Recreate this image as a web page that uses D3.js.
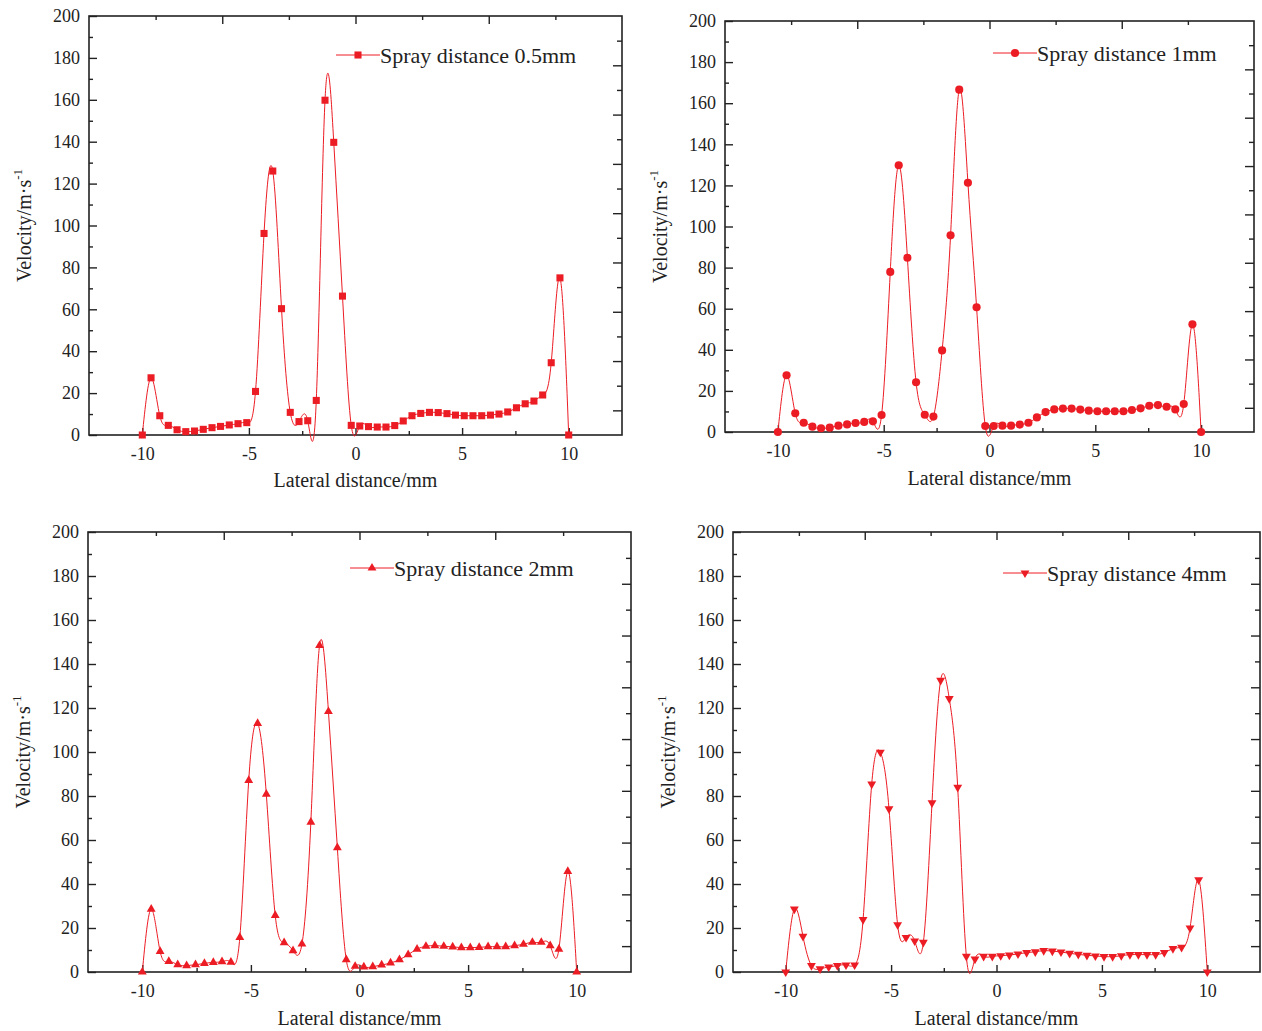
<!DOCTYPE html>
<html>
<head>
<meta charset="utf-8">
<script src="https://cdn.jsdelivr.net/npm/d3@7"></script>
<style>
    body { margin: 0; background: #fff; }
    text { font-family: "Liberation Serif", "Times New Roman", serif; fill: #222; }
</style>
</head>
<body>
<div id="chart"></div>
<script>
// data: lateral positions (mm) shared by all four runs
const lateral = [-10, -9.59, -9.18, -8.78, -8.37, -7.96, -7.55, -7.14, -6.73, -6.33,
    -5.92, -5.51, -5.1, -4.69, -4.29, -3.88, -3.47, -3.06, -2.65, -2.24,
    -1.84, -1.43, -1.02, -0.61, -0.2, 0.2, 0.61, 1.02, 1.43, 1.84,
    2.24, 2.65, 3.06, 3.47, 3.88, 4.29, 4.69, 5.1, 5.51, 5.92,
    6.33, 6.73, 7.14, 7.55, 7.96, 8.37, 8.78, 9.18, 9.59, 10]

// velocity (m/s) for each spray distance
const vel05 = [0, 27.3, 9.2, 4.6, 2.5, 1.6, 1.9, 2.7, 3.5, 4.1,
    4.8, 5.4, 5.9, 20.8, 96.2, 126, 60.3, 10.8, 6.4, 6.8,
    16.5, 159.8, 139.7, 66.3, 4.6, 4.3, 4.0, 3.8, 3.8, 4.5,
    6.7, 9.2, 10.3, 10.8, 10.7, 10.2, 9.5, 9.2, 9.2, 9.2,
    9.5, 10.0, 11.0, 13.0, 14.9, 16.2, 19.1, 34.5, 75.0, 0]
const vel1 = [0, 27.6, 9.1, 4.5, 2.6, 1.8, 2.1, 3.1, 3.7, 4.4,
    4.9, 5.2, 8.3, 77.9, 129.8, 84.8, 24.2, 8.4, 7.5, 39.7,
    95.7, 166.6, 121.3, 60.7, 2.9, 2.9, 3.1, 3.1, 3.6, 4.5,
    7.1, 9.7, 11.0, 11.4, 11.4, 10.9, 10.4, 10.1, 10.1, 10.1,
    10.1, 10.7, 11.5, 12.8, 13.1, 12.3, 11.0, 13.6, 52.4, 0]
const vel2 = [0, 28.6, 9.4, 4.8, 3.3, 2.9, 3.3, 3.9, 4.4, 4.7,
    4.5, 15.7, 87.1, 113, 80.8, 25.7, 13.3, 9.7, 12.7, 68.1,
    148.4, 118.4, 56.5, 5.6, 2.6, 2.3, 2.4, 3.2, 4.1, 5.6,
    7.9, 10.4, 11.7, 12.0, 11.7, 11.4, 11.1, 11.1, 11.2, 11.5,
    11.5, 11.5, 12.0, 12.6, 13.5, 13.5, 12.0, 10.4, 45.7, 0]
const vel4 = [0, 28.6, 16.2, 2.9, 1.4, 2.3, 2.9, 3.2, 3.2, 23.8,
    85.4, 99.9, 74.2, 21.5, 15.7, 14.1, 13.5, 76.9, 132.6, 124.3,
    83.9, 7.1, 5.9, 7.1, 7.1, 7.4, 7.7, 8.2, 8.8, 9.2,
    9.7, 9.5, 9.1, 8.5, 8.0, 7.6, 7.3, 7.0, 7.0, 7.4,
    7.9, 7.9, 7.9, 7.9, 8.8, 10.6, 11.2, 20.0, 41.9, 0]

const seriesNames = ["Spray distance 0.5mm", "Spray distance 1mm", "Spray distance 2mm", "Spray distance 4mm"]

// ticks
const xTicks = [-10, -5, 0, 5, 10]
const xMinorTicks = [-7.5, -2.5, 2.5, 7.5]
const yTicks = [0, 20, 40, 60, 80, 100, 120, 140, 160, 180, 200]
const yMinorTicks = [10, 30, 50, 70, 90, 110, 130, 150, 170, 190]

const xTitle = "Lateral distance/mm"
const yTitle = "Velocity/m·s"

// layout
const width = 1262
const height = 1031
const red = "#ec1c24"
const serif = '"Liberation Serif", "Times New Roman", serif'

const panels = [
    { values: vel05, name: seriesNames[0], symbol: d3.symbolSquare, size: 50, rot: 0,
      left: 89, top: 16, right: 622, bottom: 435, legX: 336, legY: 55, xOff: 52 },
    { values: vel1, name: seriesNames[1], symbol: d3.symbolCircle, size: 52, rot: 0,
      left: 725, top: 21, right: 1254, bottom: 432, legX: 993, legY: 53, xOff: 53 },
    { values: vel2, name: seriesNames[2], symbol: d3.symbolTriangle, size: 34, rot: 0,
      left: 88, top: 532, right: 631, bottom: 972, legX: 350, legY: 568, xOff: 53 },
    { values: vel4, name: seriesNames[3], symbol: d3.symbolTriangle, size: 34, rot: 180,
      left: 733, top: 532, right: 1260, bottom: 972, legX: 1003, legY: 573, xOff: 53 }
]

const svg = d3.select("div#chart").append("svg").attr("width", width).attr("height", height)

panels.forEach(drawPanel)

function drawPanel(p) {
    const g = svg.append("g").attr("class", "panel")

    const x = d3.scaleLinear().domain([-12.5, 12.5]).range([p.left, p.right])
    const y = d3.scaleLinear().domain([0, 200]).range([p.bottom, p.top])
    // the opposite axes of the original carry their own tick spacing
    const xTop = d3.scaleLinear().domain([0, 8]).range([p.left, p.right])
    const yRight = d3.scaleLinear().domain([0, 17]).range([p.bottom, p.top])

    const noDomain = a => a.select(".domain").remove()
    const labelStyle = a => a.attr("font-size", 18).attr("font-family", serif)
        .selectAll("text").attr("fill", "#222")

    // bottom
    g.append("g").attr("transform", `translate(0, ${p.bottom})`)
        .call(d3.axisBottom(x).tickValues(xTicks).tickSizeInner(-7).tickSizeOuter(0).tickPadding(12).tickFormat(d => String(d)))
        .call(noDomain)
        .call(labelStyle)
    g.append("g").attr("transform", `translate(0, ${p.bottom})`)
        .call(d3.axisBottom(x).tickValues(xMinorTicks).tickSizeInner(-4).tickSizeOuter(0).tickFormat(""))
        .call(noDomain)

    // left
    g.append("g").attr("transform", `translate(${p.left}, 0)`)
        .call(d3.axisLeft(y).tickValues(yTicks).tickSizeInner(-8).tickSizeOuter(0).tickPadding(9))
        .call(noDomain)
        .call(labelStyle)
    g.append("g").attr("transform", `translate(${p.left}, 0)`)
        .call(d3.axisLeft(y).tickValues(yMinorTicks).tickSizeInner(-4).tickSizeOuter(0).tickFormat(""))
        .call(noDomain)

    // top
    g.append("g").attr("transform", `translate(0, ${p.top})`)
        .call(d3.axisTop(xTop).tickValues([2, 4, 6]).tickSizeInner(-8).tickSizeOuter(0).tickFormat(""))
        .call(noDomain)
    g.append("g").attr("transform", `translate(0, ${p.top})`)
        .call(d3.axisTop(xTop).tickValues([1, 3, 5, 7]).tickSizeInner(-4).tickSizeOuter(0).tickFormat(""))
        .call(noDomain)

    // right
    g.append("g").attr("transform", `translate(${p.right}, 0)`)
        .call(d3.axisRight(yRight).tickValues(d3.range(1, 17, 2)).tickSizeInner(-9).tickSizeOuter(0).tickFormat(""))
        .call(noDomain)
    g.append("g").attr("transform", `translate(${p.right}, 0)`)
        .call(d3.axisRight(yRight).tickValues(d3.range(2, 17, 2)).tickSizeInner(-5).tickSizeOuter(0).tickFormat(""))
        .call(noDomain)

    g.selectAll(".tick line").attr("stroke", "#222").attr("stroke-width", 1.4)

    // frame
    g.append("rect")
        .attr("x", p.left).attr("y", p.top)
        .attr("width", p.right - p.left).attr("height", p.bottom - p.top)
        .attr("fill", "none").attr("stroke", "#222").attr("stroke-width", 1.6)

    // curve
    const points = lateral.map((d, i) => [d, p.values[i]])
    const line = d3.line().x(d => x(d[0])).y(d => y(d[1])).curve(d3.curveNatural)
    g.append("path").datum(points)
        .attr("d", line)
        .attr("fill", "none").attr("stroke", red).attr("stroke-width", 1)

    const sym = d3.symbol().type(p.symbol).size(p.size)
    g.selectAll("path.marker").data(points).enter()
        .append("path")
        .attr("class", "marker")
        .attr("d", sym)
        .attr("transform", d => `translate(${x(d[0])}, ${y(d[1])}) rotate(${p.rot})`)
        .attr("fill", red)

    // legend
    g.append("line")
        .attr("x1", p.legX).attr("x2", p.legX + 44)
        .attr("y1", p.legY).attr("y2", p.legY)
        .attr("stroke", red).attr("stroke-width", 1)
    g.append("path")
        .attr("d", sym)
        .attr("transform", `translate(${p.legX + 22}, ${p.legY}) rotate(${p.rot})`)
        .attr("fill", red)
    g.append("text")
        .attr("x", p.legX + 44).attr("y", p.legY + 8)
        .attr("font-size", 22)
        .text(p.name)

    // axis titles
    g.append("text")
        .attr("x", x(0)).attr("y", p.bottom + p.xOff)
        .attr("text-anchor", "middle")
        .attr("font-size", 20)
        .text(xTitle)

    const yt = g.append("text")
        .attr("transform", `translate(${p.left - 58}, ${(p.top + p.bottom) / 2}) rotate(-90)`)
        .attr("text-anchor", "middle")
        .attr("font-size", 20)
    yt.append("tspan").text(yTitle)
    yt.append("tspan").attr("dy", -9).attr("font-size", 13).text("-1")
}
</script>
</body>
</html>
